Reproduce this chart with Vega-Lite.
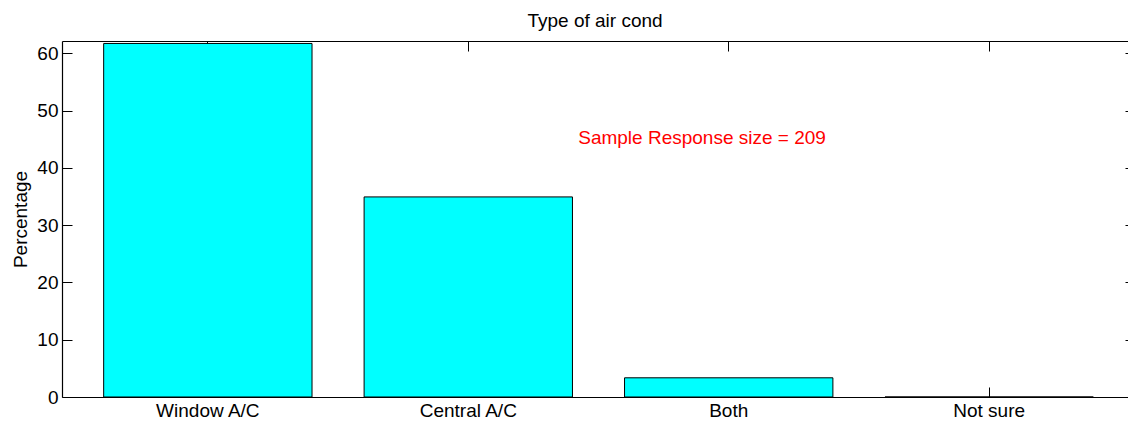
{
  "$schema": "https://vega.github.io/schema/vega-lite/v6.json",
  "autosize": "none",
  "padding": {"left": 62, "top": 41, "right": 0, "bottom": 25},
  "width": 1066,
  "height": 356,
  "title": {"text": "Type of air cond", "fontSize": 19, "fontWeight": "normal", "font": "Liberation Sans", "color": "#000000", "offset": 10},
  "config": {
    "view": {"stroke": null},
    "font": "Liberation Sans",
    "axis": {"domainColor": "#000000", "tickColor": "#000000", "labelColor": "#000000", "titleColor": "#000000", "labelFont": "Liberation Sans", "titleFont": "Liberation Sans", "labelFontSize": 19, "titleFontSize": 19, "titleFontWeight": "normal", "grid": false, "domainWidth": 1.2, "tickWidth": 1}
  },
  "layer": [
    {
      "data": {"values": [
        {"type": "Window A/C", "pct": 61.72},
        {"type": "Central A/C", "pct": 34.93},
        {"type": "Both", "pct": 3.35},
        {"type": "Not sure", "pct": 0}
      ]},
      "mark": {"type": "bar", "fill": "#00FFFF", "stroke": "#000000", "strokeWidth": 1},
      "encoding": {
        "x": {"field": "type", "type": "nominal", "sort": null,
              "scale": {"range": [0, 1073], "paddingInner": 0.2, "paddingOuter": 0.16},
              "axis": {"orient": "bottom", "title": null, "labelAngle": 0, "tickSize": -10, "labelPadding": 14}},
        "y": {"field": "pct", "type": "quantitative",
              "scale": {"domain": [0, 62.15], "nice": false, "zero": true},
              "axis": {"orient": "left", "title": "Percentage", "values": [0, 10, 20, 30, 40, 50, 60], "tickSize": -10, "labelPadding": 14, "titlePadding": 6}}
      }
    },
    {
      "data": {"values": [
        {"type": "Window A/C", "pct": 61.72},
        {"type": "Central A/C", "pct": 34.93},
        {"type": "Both", "pct": 3.35},
        {"type": "Not sure", "pct": 0}
      ]},
      "mark": {"type": "point", "opacity": 0},
      "encoding": {
        "x": {"field": "type", "type": "nominal", "sort": null,
              "axis": {"orient": "top", "title": null, "labels": false, "tickSize": -10}},
        "y": {"field": "pct", "type": "quantitative",
              "axis": {"orient": "right", "title": null, "labels": false, "values": [0, 10, 20, 30, 40, 50, 60], "tickSize": -10, "offset": 7}}
      }
    },
    {
      "data": {"values": [{"type": "Both", "y": 44.2, "label": "Sample Response size = 209"}]},
      "mark": {"type": "text", "align": "left", "baseline": "alphabetic", "dx": -150.5, "fontSize": 19, "font": "Liberation Sans", "color": "#FF0000"},
      "encoding": {
        "x": {"field": "type", "type": "nominal", "sort": null, "axis": null},
        "y": {"field": "y", "type": "quantitative", "axis": null},
        "text": {"field": "label"}
      }
    }
  ],
  "resolve": {"axis": {"x": "independent", "y": "independent"}}
}
